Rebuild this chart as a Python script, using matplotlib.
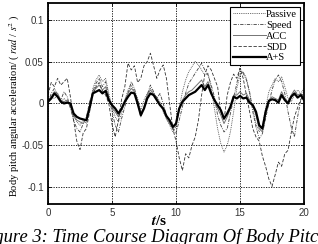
import numpy as np
import matplotlib
matplotlib.use("Agg")
import matplotlib.pyplot as plt

# time axis (s), 0.25 s step
t = np.linspace(0, 20, 81)

passive = [0.004, 0.008, 0.006, 0.010, 0.003, 0.006, 0.002, -0.004,
           -0.015, -0.022, -0.026, -0.020, -0.024, -0.008, 0.018, 0.028,
           0.034, 0.026, 0.030, 0.012, -0.004, -0.016, -0.022, -0.012,
           0.004, 0.016, 0.022, 0.014, 0.006, -0.008, 0.004, 0.012,
           0.018, 0.010, 0.008, 0.002, -0.010, -0.018, -0.026, -0.034,
           -0.028, -0.006, 0.014, 0.028, 0.038, 0.044, 0.050, 0.046,
           0.040, 0.034, 0.036, 0.018, -0.006, -0.030, -0.048, -0.058,
           -0.050, -0.034, -0.010, 0.018, 0.034, 0.038, 0.030, 0.012,
           -0.006, -0.024, -0.034, -0.026, -0.006, 0.014, 0.022, 0.030,
           0.026, 0.032, 0.020, 0.006, 0.002, 0.010, 0.016, 0.012, 0.018]

speed = [0.000, 0.012, 0.018, 0.010, 0.004, 0.014, 0.008, -0.006,
         -0.020, -0.030, -0.034, -0.024, -0.016, 0.002, 0.014, 0.024,
         0.030, 0.020, 0.026, 0.008, -0.010, -0.026, -0.034, -0.018,
         -0.004, 0.012, 0.026, 0.018, 0.004, -0.012, -0.004, 0.010,
         0.022, 0.014, 0.006, 0.012, 0.000, -0.014, -0.022, -0.030,
         -0.036, -0.020, -0.004, 0.012, 0.024, 0.030, 0.036, 0.042,
         0.048, 0.040, 0.034, 0.022, 0.008, -0.014, -0.026, -0.034,
         -0.030, -0.012, 0.006, 0.024, 0.042, 0.036, 0.028, 0.014,
         -0.010, -0.028, -0.042, -0.036, -0.018, 0.000, 0.016, 0.028,
         0.034, 0.026, 0.012, -0.010, -0.028, -0.040, -0.016, 0.004, 0.016]

acc = [0.004, 0.008, 0.014, 0.012, 0.004, 0.002, 0.004, -0.002,
       -0.014, -0.020, -0.022, -0.024, -0.018, -0.004, 0.014, 0.018,
       0.022, 0.016, 0.020, 0.006, -0.004, -0.010, -0.016, -0.008,
       0.004, 0.012, 0.018, 0.014, 0.002, -0.016, -0.004, 0.010,
       0.016, 0.012, 0.006, -0.002, -0.008, -0.018, -0.024, -0.030,
       -0.026, -0.008, 0.004, 0.010, 0.014, 0.016, 0.020, 0.024,
       0.028, 0.020, 0.026, 0.014, 0.004, -0.006, -0.014, -0.024,
       -0.016, -0.006, 0.010, 0.010, 0.014, 0.010, 0.012, 0.004,
       -0.002, -0.014, -0.030, -0.034, -0.012, 0.004, 0.008, 0.006,
       0.004, 0.014, 0.006, 0.002, 0.010, 0.016, 0.010, 0.012, 0.006]

sdd = [0.010, 0.025, 0.020, 0.030, 0.022, 0.026, 0.030, 0.008,
       -0.020, -0.045, -0.055, -0.035, -0.030, -0.010, 0.010, 0.020,
       0.025, 0.015, 0.010, 0.000, -0.025, -0.040, -0.020, 0.005,
       0.020, 0.048, 0.040, 0.045, 0.025, 0.030, 0.045, 0.050,
       0.060, 0.045, 0.030, 0.040, 0.046, 0.030, 0.000, -0.030,
       -0.045, -0.065, -0.080, -0.060, -0.065, -0.050, -0.040, -0.020,
       0.010, 0.035, 0.045, 0.040, 0.030, 0.020, -0.010, -0.020,
       0.010, 0.025, 0.035, 0.030, 0.042, 0.030, 0.010, -0.010,
       -0.030, -0.040, -0.045, -0.063, -0.075, -0.090, -0.099, -0.085,
       -0.070, -0.075, -0.060, -0.056, -0.035, -0.016, -0.005, 0.005, 0.008]

a_s = [0.002, 0.006, 0.012, 0.008, 0.002, 0.000, 0.001, 0.000,
       -0.012, -0.016, -0.018, -0.019, -0.020, -0.005, 0.012, 0.014,
       0.016, 0.012, 0.015, 0.004, -0.002, -0.006, -0.012, -0.006,
       0.002, 0.008, 0.013, 0.012, 0.000, -0.014, -0.006, 0.006,
       0.012, 0.010, 0.004, -0.002, -0.006, -0.015, -0.020, -0.028,
       -0.024, -0.006, 0.002, 0.006, 0.010, 0.012, 0.014, 0.018,
       0.022, 0.016, 0.022, 0.012, 0.004, -0.002, -0.008, -0.018,
       -0.012, -0.004, 0.008, 0.006, 0.009, 0.006, 0.007, 0.001,
       -0.002, -0.010, -0.026, -0.030, -0.010, 0.003, 0.005, 0.004,
       0.001, 0.010, 0.004, 0.000, 0.008, 0.012, 0.007, 0.010, 0.004]

xticks = [0, 5, 10, 15, 20]
yticks = [-0.1, -0.05, 0, 0.05, 0.1]
ytick_labels = ["-0.1", "-0.05", "0", "0.05", "0.1"]

plt.rcParams['mathtext.fontset'] = 'stix'

fig = plt.figure(figsize=(3.18, 2.44), dpi=100)
ax = fig.add_axes([0.151, 0.164, 0.805, 0.824])

ax.plot(t, passive, color='0.25', lw=0.6, ls=(0, (1, 1.2)), label='Passive')
ax.plot(t, speed, color='0.25', lw=0.6, ls=(0, (4, 1.5, 1, 1.5)), label='Speed')
ax.plot(t, acc, color='0.45', lw=0.7, ls='-', label='ACC')
ax.plot(t, sdd, color='0.2', lw=0.6, ls=(0, (4, 2)), label='SDD')
ax.plot(t, a_s, color='black', lw=1.6, ls='-', label='A+S')

ax.set_xlim(0, 20)
ax.set_ylim(-0.12, 0.12)
ax.set_xticks(xticks)
ax.set_xticklabels([str(v) for v in xticks])
ax.set_yticks(yticks)
ax.set_yticklabels(ytick_labels)
ax.tick_params(direction='in', length=2.5, width=0.6, labelsize=7,
               top=True, right=True, pad=3, colors='black')
for lab in ax.get_xticklabels() + ax.get_yticklabels():
    lab.set_family('Liberation Sans')
    lab.set_color('0.2')
ax.grid(True, color='black', ls=(0, (1.5, 1.5)), lw=0.6)
for sp in ax.spines.values():
    sp.set_linewidth(1.3)

# y label placed by hand so it sits like the original figure
fig.text(0.047, 0.568, r'Body pitch angular acceleration/ ( $\mathit{rad}$ / $\mathit{s^2}$ )',
         family='Liberation Serif', fontsize=7.5, rotation=90,
         ha='center', va='center')
fig.text(0.5, 0.079, r'$\boldsymbol{t}$/s', family='Liberation Serif', fontsize=11,
         fontweight='bold', ha='center', va='baseline')

leg = ax.legend(loc='upper right', prop={'family': 'Liberation Serif', 'size': 7.5},
                frameon=True, fancybox=False, edgecolor='black', framealpha=1,
                handlelength=3.2, handletextpad=0.0, labelspacing=0.15,
                borderpad=0.25, borderaxespad=0.4)
leg.get_frame().set_linewidth(0.8)

fig.text(-0.07, 0.007, 'Figure 3: Time Course Diagram Of Body Pitch',
         family='Liberation Serif', style='italic', fontsize=13.3, va='baseline')

fig.savefig('out.png', dpi=100)
